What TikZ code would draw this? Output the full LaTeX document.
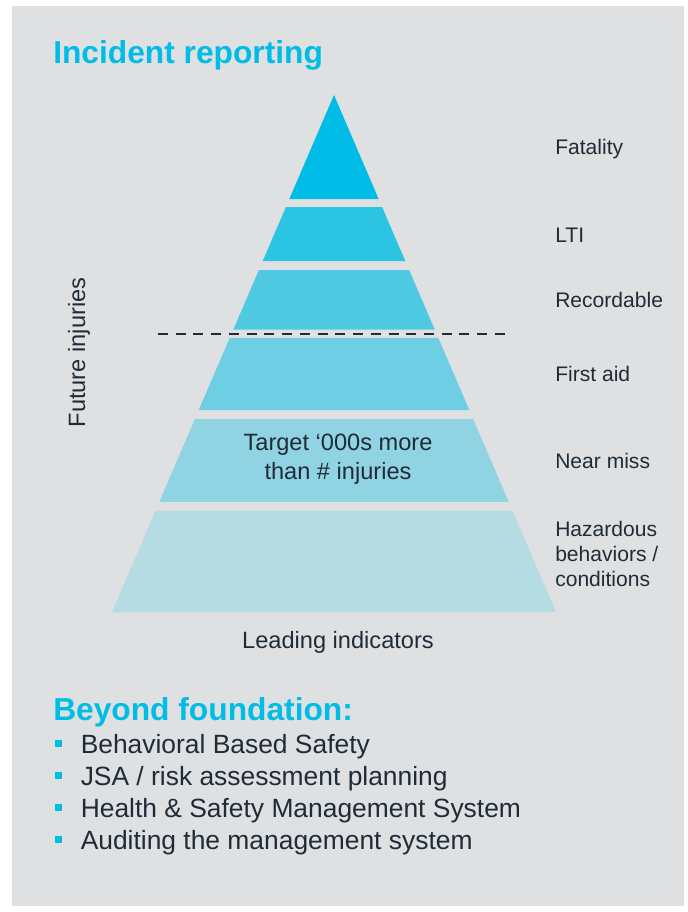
\documentclass[tikz,border=0pt]{standalone}
\usepackage{fontspec}
\setmainfont{Liberation Sans}
\usepackage{tikz}
\usetikzlibrary{calc, positioning}
\definecolor{panelGrey}{RGB}{223, 224, 226}
\definecolor{reportCyan}{RGB}{0, 189, 230}
\definecolor{inkDark}{RGB}{31, 44, 55}
\definecolor{tierOne}{RGB}{0, 188, 230}
\definecolor{tierTwo}{RGB}{44, 196, 227}
\definecolor{tierThree}{RGB}{78, 202, 227}
\definecolor{tierFour}{RGB}{110, 207, 228}
\definecolor{tierFive}{RGB}{144, 212, 227}
\definecolor{tierSix}{RGB}{181, 219, 227}

\begin{document}
\begin{tikzpicture}[x=0.75pt, y=-0.75pt,
    levellabel/.style={anchor=base west, inner sep=0pt, text=inkDark, align=left, font=\fontsize{15.8}{18.75}\selectfont},
    pyrtext/.style={inner sep=0pt, text=inkDark, align=center, font=\fontsize{17.7}{21.4}\selectfont},
    headline/.style={anchor=base west, inner sep=0pt, text=reportCyan, font=\fontsize{23.8}{28}\selectfont\bfseries},
    bulletsq/.style={rectangle, fill=reportCyan, minimum size=5.2pt, inner sep=0pt},
    bullettext/.style={anchor=base west, inner sep=0pt, text=inkDark, font=\fontsize{19.8}{24}\selectfont},
    cutline/.style={draw=inkDark, line width=1.5pt, dash pattern=on 7.5pt off 5.8pt}]
    \useasboundingbox (0,0) rectangle (687,912);

    % Panel
    \fill[panelGrey] (12,6) rectangle (684,906);

    % Title
    \node[headline] (title) at (53,63.3) {Incident reporting};

    % Pyramid corners
    \coordinate (apex) at (334,95);
    \coordinate (baseL) at (112,612);
    \coordinate (baseR) at (556,612);

    % Tiers (fractions along the sides)
    \foreach \ta/\tb/\col in {0/0.2012/tierOne, 0.2167/0.3211/tierTwo, 0.3385/0.4536/tierThree,
                              0.4700/0.6093/tierFour, 0.6267/0.7872/tierFive, 0.8046/1/tierSix} {
        \fill[\col] ($(apex)!\ta!(baseL)$) -- ($(apex)!\tb!(baseL)$)
                 -- ($(apex)!\tb!(baseR)$) -- ($(apex)!\ta!(baseR)$) -- cycle;
    }

    % Cut line
    \coordinate (cutL) at (158,334);
    \coordinate (cutR) at (509,334);
    \draw[cutline] (cutL) -- (cutR);

    % Level labels (base = last line)
    \node[levellabel] (fatal) at (555,155) {Fatality};
    \node[levellabel] (lti) at (555,242.5) {LTI};
    \node[levellabel] (record) at (555,308) {Recordable};
    \node[levellabel] (firstaid) at (555,381.5) {First aid};
    \node[levellabel] (nearmiss) at (555,468.5) {Near miss};
    \node[levellabel] (hazard) at (555,586) {Hazardous\\behaviors /\\conditions};

    % Side and bottom captions
    \node[pyrtext, rotate=90, anchor=base] (future) at (85,352.5) {Future injuries};
    \node[pyrtext, anchor=base] (leading) at (338,648.3) {Leading indicators};
    \node[pyrtext, anchor=base] (target) at (338,479.3) {Target ‘000s more\\than \# injuries};

    % Beyond foundation
    \node[headline] (beyond) at (53,720) {Beyond foundation:};
    \foreach \txt [count=\i] in {Behavioral Based Safety, JSA / risk assessment planning,
                                 Health \& Safety Management System, Auditing the management system} {
        \node[bullettext] (item\i) at (80.5,{753.3+32*(\i-1)}) {\txt};
        \node[bulletsq] (dot\i) at (58.4,{743.3+32*(\i-1)}) {};
    }
\end{tikzpicture}
\end{document}
